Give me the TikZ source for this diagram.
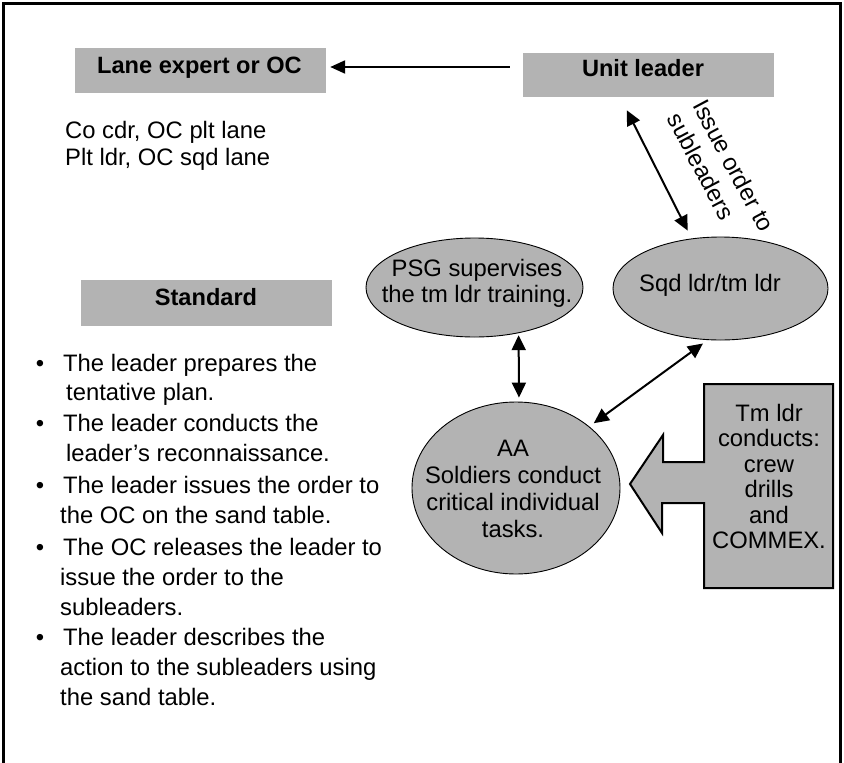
\documentclass[tikz,border=0pt]{standalone}
\usepackage{fontspec}
\setmainfont{Liberation Sans}
\usetikzlibrary{arrows.meta,shapes.geometric}
\definecolor{boxgray}{HTML}{B3B3B3}
\begin{document}
\begin{tikzpicture}[x=1pt,y=-1pt,
  txt/.style={inner sep=0pt, font=\fontsize{23.8}{25.5}\selectfont},
  boldtxt/.style={inner sep=0pt, font=\fontsize{23.6}{25.5}\selectfont\bfseries},
  graybox/.style={rectangle, fill=boxgray, draw=none, minimum width=251pt, inner sep=0pt},
  oval/.style={ellipse, fill=boxgray, draw=black, line width=0.9pt, inner sep=0pt},
  link/.style={line width=2.2pt, -{Triangle[length=15pt,width=13pt]}},
  twoway/.style={line width=2pt, {Triangle[length=15pt,width=14pt]}-{Triangle[length=15pt,width=14pt]}}]

\useasboundingbox (0,0) rectangle (844,763);

% outer frame, open at the bottom
\draw[line width=3pt] (3.2,800) -- (3.2,3.2) -- (840,3.2) -- (840,800);

% title boxes
\node[graybox, minimum height=45pt] (lane) at (200.5,70.5) {};
\node[graybox, minimum height=44pt] (unit) at (648.5,75) {};
\node[graybox, minimum height=46pt] (std) at (206.5,303) {};
\node[boldtxt, anchor=base] (lanetxt) at (199.5,73) {Lane expert or OC};
\node[boldtxt, anchor=base] (unittxt) at (643,76) {Unit leader};
\node[boldtxt, anchor=base] (stdtxt) at (206,305) {Standard};

% who acts as the lane expert
\node[txt, anchor=base west] (cocdr) at (65,138.5) {Co cdr, OC plt lane};
\node[txt, anchor=base west] (pltldr) at (65,165.5) {Plt ldr, OC sqd lane};

% ovals
\node[oval, minimum width=217pt, minimum height=99pt] (psg) at (474.5,287.5) {};
\node[oval, minimum width=215pt, minimum height=103pt] (sqd) at (720.5,288.5) {};
\node[oval, minimum width=208pt, minimum height=172pt] (aa) at (516,488) {};

\node[txt, anchor=base] (psg1) at (477,276.5) {PSG supervises};
\node[txt, anchor=base] (psg2) at (477,302) {the tm ldr training.};
\node[txt, anchor=base] (sqdtxt) at (710,291) {Sqd ldr/tm ldr};
\foreach \t [count=\i] in {AA, Soldiers conduct, critical individual, tasks.}
  \node[txt, anchor=base] (aa\i) at (513,{456.5+27*(\i-1)}) {\t};

% block arrow callout
\draw[fill=boxgray, line width=2pt, line join=miter]
  (704,384) -- (833,384) -- (833,588) -- (704,588) -- (704,503) -- (662,503)
  -- (662,533) -- (630,484) -- (663,435) -- (663,462) -- (704,462) -- cycle;
\foreach \t [count=\i] in {Tm ldr, conducts:, crew, drills, and, COMMEX.}
  \node[txt, anchor=base] (tm\i) at (769,{421+25.5*(\i-1)}) {\t};

% rotated label along the order arrow (left aligned, 29pt apart)
\node[txt, rotate=-62, anchor=base west] (issue1) at (692,105) {Issue order to};
\node[txt, rotate=-62, anchor=base west] (issue2) at (666.4,118.6) {subleaders};

% standard bullet list
\foreach \y [count=\i] in {371,431,493,555,645}
  \node[txt, anchor=base] (dot\i) at (40,\y) {\textbullet};
\foreach \x/\y/\t [count=\i] in {
    63/371/The leader prepares the,
    66/400/tentative plan.,
    63/431/The leader conducts the,
    66/461/leader’s reconnaissance.,
    63/493/The leader issues the order to,
    60/523/the OC on the sand table.,
    63/555/The OC releases the leader to,
    60/585/issue the order to the,
    60/615/subleaders.,
    63/645/The leader describes the,
    60/675/action to the subleaders using,
    60/705/the sand table.}
  \node[txt, anchor=base west] (line\i) at (\x,\y) {\t};

% connectors
\draw[link, shorten <=13pt, shorten >=4pt]
  ([yshift=8pt]unit.west) -- ([yshift=8pt]unit.west -| lane.east);
\draw[twoway, shorten <=14.6pt, shorten >=8.8pt]
  ([xshift=97.4pt]unit.south west) -- (sqd.120);
\draw[twoway, shorten <=2pt, shorten >=4pt] (psg.-46) -- (aa.88);
\draw[twoway, shorten <=5.5pt, shorten >=5.8pt] (aa.40) -- (sqd.256);
\end{tikzpicture}
\end{document}
